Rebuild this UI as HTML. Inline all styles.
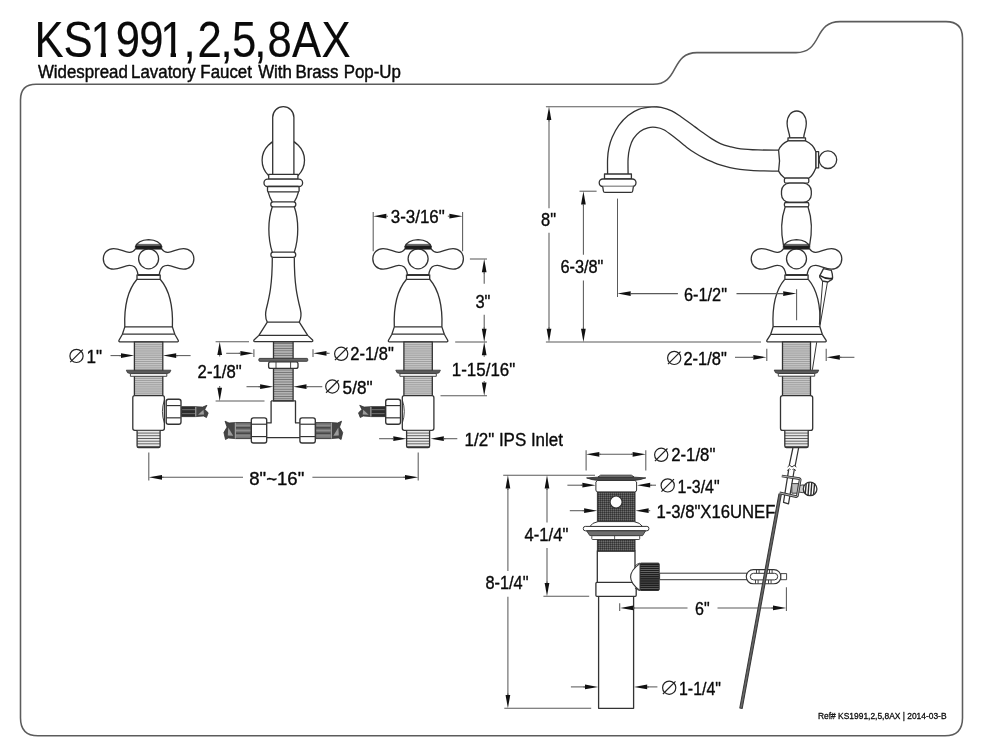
<!DOCTYPE html>
<html lang="en">
<head>
<meta charset="utf-8">
<title>KS1991,2,5,8AX - Widespread Lavatory Faucet With Brass Pop-Up</title>
<style>
html,body{margin:0;padding:0;background:#fff;}
body{width:982px;height:756px;overflow:hidden;font-family:"Liberation Sans",sans-serif;}
svg{display:block;will-change:transform;filter:grayscale(1);}
svg text{font-family:"Liberation Sans",sans-serif;fill:#0a0a0a;}
svg text{stroke:#0a0a0a;stroke-linejoin:round;}
</style>
</head>
<body>
<svg width="982" height="756" viewBox="0 0 982 756">
<defs>
<pattern id="thr" width="4" height="1.9" patternUnits="userSpaceOnUse"><rect width="4" height="1.9" fill="#cacaca" stroke="none"/><rect y="0" width="4" height="0.7" fill="#909090" stroke="none"/></pattern>
<pattern id="thr3" width="4" height="2.4" patternUnits="userSpaceOnUse"><rect width="4" height="2.4" fill="#b4b4b4" stroke="none"/><rect y="0" width="4" height="0.8" fill="#707070" stroke="none"/></pattern>
<pattern id="thr2" width="4" height="2.7" patternUnits="userSpaceOnUse" patternTransform="translate(0 0.6)"><rect width="4" height="2.7" fill="#e8e8e8" stroke="none"/><rect y="0" width="4" height="0.9" fill="#555" stroke="none"/></pattern>
<pattern id="dthr" width="2" height="2" patternUnits="userSpaceOnUse"><rect width="2" height="2" fill="#4c4c4c" stroke="none"/><rect width="1" height="1" fill="#333" stroke="none"/><rect x="1" y="1" width="1" height="1" fill="#6c6c6c" stroke="none"/></pattern>
<pattern id="knurl" width="4" height="2.1" patternUnits="userSpaceOnUse"><rect width="4" height="2.1" fill="#1e1e1e" stroke="none"/><rect y="0" width="4" height="0.6" fill="#777" stroke="none"/></pattern>
</defs>
<rect x="0" y="0" width="982" height="756" fill="#ffffff"/>
<g fill="none" stroke="#333" stroke-width="1.3" stroke-linejoin="round">
<path d="M20.5 100 Q20.5 84.3 36 84.3 L653 84.3 C666 84.3 670.5 77 675 68.4 C679.5 60 684 52.6 697 52.6 L796 52.6 C809 52.6 813.5 45.5 818 37 C822.5 28.6 827 21.6 840 21.6 L946 21.6 Q962.5 21.6 962.5 38 L962.5 718 Q962.5 735.8 945 735.8 L38 735.8 Q20.5 735.8 20.5 718 Z" fill="none" stroke-width="1.55" stroke="#5c5c5c" />
<g class="art">
<path d="M135.40 249.1 C133.60 251.5 131.60 252.5 129.20 252.3 C124.60 252 119.60 248.6 113.60 248.6 C107.60 248.6 103.30 253 103.30 258.8 C103.30 264.8 107.60 269.2 113.60 269.2 C119.60 269.2 124.60 265.6 129.20 265.4 C133.10 265.3 136.10 267.5 137.10 271 C137.60 272.5 137.80 273.5 137.80 274.4" fill="none" />
<path d="M161.80 249.1 C163.60 251.5 165.60 252.5 168.00 252.3 C172.60 252 177.60 248.6 183.60 248.6 C189.60 248.6 193.90 253 193.90 258.8 C193.90 264.8 189.60 269.2 183.60 269.2 C177.60 269.2 172.60 265.6 168.00 265.4 C164.10 265.3 161.10 267.5 160.10 271 C159.60 272.5 159.40 273.5 159.40 274.4" fill="none" />
<circle cx="148.6" cy="258.8" r="10.0" fill="none"/>
<path d="M135.40 247 Q137.60 240 148.60 239.6 Q159.60 240 161.80 247" fill="#fff" />
<path d="M137.10 244.4 L160.10 244.4" fill="none" stroke-width="0.8" />
<path d="M135.20 249.3 L135.40 246.6 L136.60 245.4 L160.60 245.4 L161.80 246.6 L162.00 249.3 Z" fill="#1c1c1c" stroke-width="0.6" />
<path d="M137.30 275 L159.90 275" fill="none" stroke-width="1.9" stroke="#2a2a2a" />
<path d="M137.00 274.4 L137.00 279.3 L160.20 279.3 L160.20 274.4" fill="none" />
<path d="M137.00 279.3 C128.60 289 124.00 306 124.80 326.9 L122.40 334.2 L119.00 340.3 Q118.40 341.8 120.00 341.8" fill="none" />
<path d="M160.20 279.3 C168.60 289 173.20 306 172.40 326.9 L174.80 334.2 L178.20 340.3 Q178.80 341.8 177.20 341.8" fill="none" />
<line x1="124.8" y1="326.9" x2="172.4" y2="326.9"/>
<line x1="122.39999999999999" y1="334.2" x2="174.79999999999998" y2="334.2"/>
<line x1="119.8" y1="341.8" x2="177.4" y2="341.8" stroke-width="1.3"/>
<rect x="134.40" y="341.80" width="28.40" height="53.80" fill="url(#thr)" stroke-width="1.3"/>
<path d="M126.30 370.2 L170.90 370.2 L169.60 372.8 L166.80 373.59999999999997 L130.40 373.59999999999997 L127.60 372.8 Z" fill="#5a5a5a" stroke-width="0.8" />
<rect x="130.40" y="373.60" width="36.40" height="2.70" fill="#fff" stroke-width="0.9"/>
<rect x="132.80" y="395.70" width="31.60" height="34.60" rx="2" fill="#fff"/>
<path d="M137.10 430.6 L137.10 446 Q137.10 447.6 138.60 447.6 L158.60 447.6 Q160.10 447.6 160.10 446 L160.10 430.6" fill="url(#thr2)" />
<path d="M164.40 400 Q160.40 411.5 164.40 423" fill="none" stroke-width="0.9" />
<path d="M168.40 399.20 L178.80 399.20 Q181.00 399.20 181.00 401.40 L181.00 422.00 Q181.00 424.20 178.80 424.20 L168.40 424.20 Q166.20 424.20 166.20 422.00 L166.20 401.40 Q166.20 399.20 168.40 399.20 Z" fill="#fff" stroke-width="1.35" />
<line x1="166.5" y1="405.575" x2="180.7" y2="405.575" stroke-width="1.2"/>
<line x1="166.5" y1="417.825" x2="180.7" y2="417.825" stroke-width="1.2"/>
<rect x="181.60" y="406.70" width="14.20" height="9.90" fill="#2c2c2c" stroke-width="0.9"/>
<line x1="182.1" y1="409.67" x2="195.3" y2="409.67" stroke-width="0.7" stroke="#8a8a8a"/>
<line x1="182.1" y1="413.63" x2="195.3" y2="413.63" stroke-width="0.7" stroke="#8a8a8a"/>
<path d="M195.80 406.70 L202.62 407.10 L206.96 405.30 L204.73 409.47 L208.20 412.84 L206.46 417.50 L203.49 416.00 L195.80 416.60 Z" fill="#444" stroke-width="0.8" />
<path d="M198.03 414.82 L203.49 409.67 L203.98 414.62 Z" fill="#9c9c9c" stroke-width="0.01" stroke="none" />
<line x1="195.8" y1="406.7" x2="195.8" y2="416.6" stroke-width="0.8" stroke="#d8d8d8"/>
<path d="M404.90 249.1 C403.10 251.5 401.10 252.5 398.70 252.3 C394.10 252 389.10 248.6 383.10 248.6 C377.10 248.6 372.80 253 372.80 258.8 C372.80 264.8 377.10 269.2 383.10 269.2 C389.10 269.2 394.10 265.6 398.70 265.4 C402.60 265.3 405.60 267.5 406.60 271 C407.10 272.5 407.30 273.5 407.30 274.4" fill="none" />
<path d="M431.30 249.1 C433.10 251.5 435.10 252.5 437.50 252.3 C442.10 252 447.10 248.6 453.10 248.6 C459.10 248.6 463.40 253 463.40 258.8 C463.40 264.8 459.10 269.2 453.10 269.2 C447.10 269.2 442.10 265.6 437.50 265.4 C433.60 265.3 430.60 267.5 429.60 271 C429.10 272.5 428.90 273.5 428.90 274.4" fill="none" />
<circle cx="418.1" cy="258.8" r="10.0" fill="none"/>
<path d="M404.90 247 Q407.10 240 418.10 239.6 Q429.10 240 431.30 247" fill="#fff" />
<path d="M406.60 244.4 L429.60 244.4" fill="none" stroke-width="0.8" />
<path d="M404.70 249.3 L404.90 246.6 L406.10 245.4 L430.10 245.4 L431.30 246.6 L431.50 249.3 Z" fill="#1c1c1c" stroke-width="0.6" />
<path d="M406.80 275 L429.40 275" fill="none" stroke-width="1.9" stroke="#2a2a2a" />
<path d="M406.50 274.4 L406.50 279.3 L429.70 279.3 L429.70 274.4" fill="none" />
<path d="M406.50 279.3 C398.10 289 393.50 306 394.30 326.9 L391.90 334.2 L388.50 340.3 Q387.90 341.8 389.50 341.8" fill="none" />
<path d="M429.70 279.3 C438.10 289 442.70 306 441.90 326.9 L444.30 334.2 L447.70 340.3 Q448.30 341.8 446.70 341.8" fill="none" />
<line x1="394.3" y1="326.9" x2="441.90000000000003" y2="326.9"/>
<line x1="391.90000000000003" y1="334.2" x2="444.3" y2="334.2"/>
<line x1="389.3" y1="341.8" x2="446.90000000000003" y2="341.8" stroke-width="1.3"/>
<rect x="403.90" y="341.80" width="28.40" height="53.80" fill="url(#thr)" stroke-width="1.3"/>
<path d="M395.80 370.2 L440.40 370.2 L439.10 372.8 L436.30 373.59999999999997 L399.90 373.59999999999997 L397.10 372.8 Z" fill="#5a5a5a" stroke-width="0.8" />
<rect x="399.90" y="373.60" width="36.40" height="2.70" fill="#fff" stroke-width="0.9"/>
<rect x="402.30" y="395.70" width="31.60" height="34.60" rx="2" fill="#fff"/>
<path d="M406.60 430.6 L406.60 446 Q406.60 447.6 408.10 447.6 L428.10 447.6 Q429.60 447.6 429.60 446 L429.60 430.6" fill="url(#thr2)" />
<path d="M402.30 400 Q406.30 411.5 402.30 423" fill="none" stroke-width="0.9" />
<path d="M387.90 399.20 L398.30 399.20 Q400.50 399.20 400.50 401.40 L400.50 422.00 Q400.50 424.20 398.30 424.20 L387.90 424.20 Q385.70 424.20 385.70 422.00 L385.70 401.40 Q385.70 399.20 387.90 399.20 Z" fill="#fff" stroke-width="1.35" />
<line x1="386.00000000000006" y1="405.575" x2="400.2" y2="405.575" stroke-width="1.2"/>
<line x1="386.00000000000006" y1="417.825" x2="400.2" y2="417.825" stroke-width="1.2"/>
<rect x="370.90" y="406.70" width="14.20" height="9.90" fill="#2c2c2c" stroke-width="0.9"/>
<line x1="371.40000000000003" y1="409.67" x2="384.6" y2="409.67" stroke-width="0.7" stroke="#8a8a8a"/>
<line x1="371.40000000000003" y1="413.63" x2="384.6" y2="413.63" stroke-width="0.7" stroke="#8a8a8a"/>
<path d="M370.90 406.70 L364.08 407.10 L359.74 405.30 L361.97 409.47 L358.50 412.84 L360.24 417.50 L363.21 416.00 L370.90 416.60 Z" fill="#444" stroke-width="0.8" />
<path d="M368.67 414.82 L363.21 409.67 L362.72 414.62 Z" fill="#9c9c9c" stroke-width="0.01" stroke="none" />
<line x1="370.90000000000003" y1="406.7" x2="370.90000000000003" y2="416.6" stroke-width="0.8" stroke="#d8d8d8"/>
<circle cx="283.3" cy="160.2" r="21.2" fill="none"/>
<path d="M272.70 174.3 L272.70 117.2 A10.6 10.6 0 0 1 293.90 117.2 L293.90 174.3" fill="#fff" />
<rect x="268.70" y="174.40" width="29.20" height="4.80" fill="#fff"/>
<rect x="264.00" y="179.20" width="38.60" height="7.30" rx="3.6" fill="#fff"/>
<rect x="267.50" y="186.50" width="31.60" height="5.30" rx="1" fill="#fff"/>
<path d="M268.10 191.8 Q269.80 198 272.30 201.8 M298.50 191.8 Q296.80 198 294.30 201.8" fill="none" />
<rect x="270.80" y="201.80" width="25.00" height="5.00" rx="2.4" fill="#fff"/>
<path d="M272.30 206.8 C267.70 220 267.70 238 272.30 252.2 M294.30 206.8 C298.90 220 298.90 238 294.30 252.2" fill="none" />
<rect x="270.90" y="252.20" width="24.80" height="5.20" rx="2.4" fill="#fff"/>
<path d="M272.30 257.4 C272.30 285 269.30 297 266.30 309 C264.90 315 265.70 319 267.30 322.1 L258.90 335.4 L254.00 340 Q253.30 341.6 254.90 341.6" fill="none" />
<path d="M294.30 257.4 C294.30 285 297.30 297 300.30 309 C301.70 315 300.90 319 299.30 322.1 L307.70 335.4 L312.60 340 Q313.30 341.6 311.70 341.6" fill="none" />
<line x1="267.3" y1="322.1" x2="299.3" y2="322.1"/>
<line x1="258.90000000000003" y1="335.4" x2="307.7" y2="335.4"/>
<line x1="254.70000000000002" y1="341.6" x2="311.90000000000003" y2="341.6" stroke-width="1.3"/>
<rect x="273.50" y="341.80" width="19.60" height="59.10" fill="url(#thr3)" stroke-width="1.3"/>
<rect x="258.90" y="358.40" width="48.80" height="2.90" rx="0.8" fill="#666" stroke-width="0.9"/>
<rect x="268.60" y="361.80" width="29.40" height="6.60" rx="2" fill="#fff"/>
<line x1="276.0" y1="362" x2="276.0" y2="368.2" stroke-width="0.9"/>
<line x1="290.6" y1="362" x2="290.6" y2="368.2" stroke-width="0.9"/>
<path d="M271.10 400.9 L295.50 400.9 L295.50 422.9 L300.80 422.9 M300.80 437.6 L265.80 437.6 M265.80 422.9 L271.10 422.9 L271.10 400.9" fill="none" />
<path d="M253.50 417.80 L264.50 417.80 Q266.70 417.80 266.70 420.00 L266.70 440.80 Q266.70 443.00 264.50 443.00 L253.50 443.00 Q251.30 443.00 251.30 440.80 L251.30 420.00 Q251.30 417.80 253.50 417.80 Z" fill="#fff" stroke-width="1.35" />
<line x1="251.60000000000002" y1="424.226" x2="266.4" y2="424.226" stroke-width="1.2"/>
<line x1="251.60000000000002" y1="436.574" x2="266.4" y2="436.574" stroke-width="1.2"/>
<path d="M302.10 417.80 L313.10 417.80 Q315.30 417.80 315.30 420.00 L315.30 440.80 Q315.30 443.00 313.10 443.00 L302.10 443.00 Q299.90 443.00 299.90 440.80 L299.90 420.00 Q299.90 417.80 302.10 417.80 Z" fill="#fff" stroke-width="1.35" />
<line x1="300.20000000000005" y1="424.226" x2="315.0" y2="424.226" stroke-width="1.2"/>
<line x1="300.20000000000005" y1="436.574" x2="315.0" y2="436.574" stroke-width="1.2"/>
<rect x="235.30" y="422.60" width="15.60" height="16.00" fill="#757575" stroke-width="0.9"/>
<line x1="235.8" y1="427.88" x2="250.4" y2="427.88" stroke-width="1.0" stroke="#2e2e2e"/>
<line x1="235.8" y1="433.16" x2="250.4" y2="433.16" stroke-width="1.0" stroke="#2e2e2e"/>
<line x1="235.8" y1="425.32000000000005" x2="250.4" y2="425.32000000000005" stroke-width="0.6" stroke="#a5a5a5"/>
<line x1="235.8" y1="430.6" x2="250.4" y2="430.6" stroke-width="0.6" stroke="#a5a5a5"/>
<line x1="235.8" y1="435.88" x2="250.4" y2="435.88" stroke-width="0.6" stroke="#a5a5a5"/>
<path d="M235.30 422.60 L229.03 423.00 L225.04 421.20 L227.09 427.08 L223.90 432.52 L225.50 439.50 L228.23 438.00 L235.30 438.60 Z" fill="#444" stroke-width="0.8" />
<path d="M233.25 435.72 L228.23 427.40 L227.78 435.40 Z" fill="#9c9c9c" stroke-width="0.01" stroke="none" />
<line x1="235.3" y1="422.6" x2="235.3" y2="438.6" stroke-width="0.8" stroke="#d8d8d8"/>
<rect x="315.70" y="422.60" width="15.60" height="16.00" fill="#757575" stroke-width="0.9"/>
<line x1="316.2" y1="427.88" x2="330.8" y2="427.88" stroke-width="1.0" stroke="#2e2e2e"/>
<line x1="316.2" y1="433.16" x2="330.8" y2="433.16" stroke-width="1.0" stroke="#2e2e2e"/>
<line x1="316.2" y1="425.32000000000005" x2="330.8" y2="425.32000000000005" stroke-width="0.6" stroke="#a5a5a5"/>
<line x1="316.2" y1="430.6" x2="330.8" y2="430.6" stroke-width="0.6" stroke="#a5a5a5"/>
<line x1="316.2" y1="435.88" x2="330.8" y2="435.88" stroke-width="0.6" stroke="#a5a5a5"/>
<path d="M331.30 422.60 L337.57 423.00 L341.56 421.20 L339.51 427.08 L342.70 432.52 L341.10 439.50 L338.37 438.00 L331.30 438.60 Z" fill="#444" stroke-width="0.8" />
<path d="M333.35 435.72 L338.37 427.40 L338.82 435.40 Z" fill="#9c9c9c" stroke-width="0.01" stroke="none" />
<line x1="331.3" y1="422.6" x2="331.3" y2="438.6" stroke-width="0.8" stroke="#d8d8d8"/>
<g class="dim" stroke="#5a5a5a" stroke-width="1.05">
<circle cx="76.5" cy="355.9" r="6.6" fill="none" stroke="#222" stroke-width="1.2"/>
<line x1="70.23" y1="362.17" x2="82.77" y2="349.63" stroke="#222" stroke-width="1.2"/>
<text transform="translate(86.40 362.65) scale(0.8962 1)" font-size="19.1" stroke-width="0.38">1"</text>
<line x1="110.5" y1="355.6" x2="121" y2="355.6"/>
<line x1="121.00" y1="355.60" x2="119.40" y2="355.60"/>
<polygon points="134.20,355.60 121.00,353.25 121.00,357.95" fill="#111" stroke="none"/>
<line x1="176.20" y1="355.60" x2="177.80" y2="355.60"/>
<polygon points="163.00,355.60 176.20,353.25 176.20,357.95" fill="#111" stroke="none"/>
<line x1="176" y1="355.6" x2="190.6" y2="355.6"/>
<line x1="215.6" y1="341.7" x2="249" y2="341.7"/>
<line x1="215.6" y1="400.9" x2="264.5" y2="400.9"/>
<line x1="219.70" y1="354.90" x2="219.70" y2="356.50"/>
<polygon points="219.70,341.70 217.35,354.90 222.05,354.90" fill="#111" stroke="none"/>
<line x1="219.70" y1="387.70" x2="219.70" y2="386.10"/>
<polygon points="219.70,400.90 217.35,387.70 222.05,387.70" fill="#111" stroke="none"/>
<text transform="translate(197.60 378.35) scale(0.8745 1)" font-size="19.1" stroke-width="0.38">2-1/8"</text>
<line x1="226.2" y1="353.3" x2="240" y2="353.3"/>
<line x1="240.40" y1="353.30" x2="238.80" y2="353.30"/>
<polygon points="253.60,353.30 240.40,350.95 240.40,355.65" fill="#111" stroke="none"/>
<line x1="253.9" y1="349.2" x2="253.9" y2="357"/>
<line x1="313" y1="349.2" x2="313" y2="357"/>
<line x1="326.50" y1="353.30" x2="328.10" y2="353.30"/>
<polygon points="313.30,353.30 326.50,350.95 326.50,355.65" fill="#111" stroke="none"/>
<line x1="326" y1="353.3" x2="329.6" y2="353.3"/>
<circle cx="341.2" cy="353.8" r="6.6" fill="none" stroke="#222" stroke-width="1.2"/>
<line x1="334.93" y1="360.07" x2="347.47" y2="347.53" stroke="#222" stroke-width="1.2"/>
<text transform="translate(350.20 360.15) scale(0.8666 1)" font-size="19.1" stroke-width="0.38">2-1/8"</text>
<line x1="246.5" y1="386.7" x2="261" y2="386.7"/>
<line x1="260.10" y1="386.70" x2="258.50" y2="386.70"/>
<polygon points="273.30,386.70 260.10,384.35 260.10,389.05" fill="#111" stroke="none"/>
<line x1="306.50" y1="386.70" x2="308.10" y2="386.70"/>
<polygon points="293.30,386.70 306.50,384.35 306.50,389.05" fill="#111" stroke="none"/>
<line x1="306" y1="386.7" x2="322.3" y2="386.7"/>
<circle cx="332.3" cy="386.5" r="6.6" fill="none" stroke="#222" stroke-width="1.2"/>
<line x1="326.03" y1="392.77" x2="338.57" y2="380.23" stroke="#222" stroke-width="1.2"/>
<text transform="translate(342.60 393.55) scale(0.9001 1)" font-size="19.1" stroke-width="0.38">5/8"</text>
<line x1="373.2" y1="212.1" x2="373.2" y2="251.2"/>
<line x1="462.6" y1="212.1" x2="462.6" y2="251.2"/>
<line x1="386.40" y1="216.20" x2="388.00" y2="216.20"/>
<polygon points="373.20,216.20 386.40,213.85 386.40,218.55" fill="#111" stroke="none"/>
<line x1="449.40" y1="216.20" x2="447.80" y2="216.20"/>
<polygon points="462.60,216.20 449.40,213.85 449.40,218.55" fill="#111" stroke="none"/>
<text transform="translate(390.80 223.15) scale(0.8864 1)" font-size="19.1" stroke-width="0.38">3-3/16"</text>
<line x1="469.9" y1="259" x2="487" y2="259"/>
<line x1="455.2" y1="342" x2="487" y2="342"/>
<line x1="440.5" y1="395.8" x2="487" y2="395.8"/>
<line x1="484.20" y1="272.20" x2="484.20" y2="273.80"/>
<polygon points="484.20,259.00 481.85,272.20 486.55,272.20" fill="#111" stroke="none"/>
<line x1="484.2" y1="272" x2="484.2" y2="283.8"/>
<text transform="translate(475.40 307.85) scale(0.8618 1)" font-size="19.1" stroke-width="0.38">3"</text>
<line x1="484.2" y1="314.7" x2="484.2" y2="329"/>
<line x1="484.20" y1="328.80" x2="484.20" y2="327.20"/>
<polygon points="484.20,342.00 481.85,328.80 486.55,328.80" fill="#111" stroke="none"/>
<line x1="484.20" y1="355.20" x2="484.20" y2="356.80"/>
<polygon points="484.20,342.00 481.85,355.20 486.55,355.20" fill="#111" stroke="none"/>
<line x1="484.20" y1="382.60" x2="484.20" y2="381.00"/>
<polygon points="484.20,395.80 481.85,382.60 486.55,382.60" fill="#111" stroke="none"/>
<text transform="translate(451.80 376.25) scale(0.8875 1)" font-size="19.1" stroke-width="0.38">1-15/16"</text>
<line x1="379.1" y1="438.7" x2="393" y2="438.7"/>
<line x1="393.30" y1="438.70" x2="391.70" y2="438.70"/>
<polygon points="406.50,438.70 393.30,436.35 393.30,441.05" fill="#111" stroke="none"/>
<line x1="443.80" y1="438.70" x2="445.40" y2="438.70"/>
<polygon points="430.60,438.70 443.80,436.35 443.80,441.05" fill="#111" stroke="none"/>
<line x1="443.5" y1="438.7" x2="457.3" y2="438.7"/>
<text transform="translate(464.60 446.45) scale(0.8881 1)" font-size="19.1" stroke-width="0.38">1/2" IPS Inlet</text>
<line x1="148.8" y1="452.6" x2="148.8" y2="480.5"/>
<line x1="418.2" y1="452.6" x2="418.2" y2="480.5"/>
<line x1="162.00" y1="477.30" x2="163.60" y2="477.30"/>
<polygon points="148.80,477.30 162.00,474.95 162.00,479.65" fill="#111" stroke="none"/>
<line x1="405.00" y1="477.30" x2="403.40" y2="477.30"/>
<polygon points="418.20,477.30 405.00,474.95 405.00,479.65" fill="#111" stroke="none"/>
<line x1="162" y1="477.3" x2="243" y2="477.3"/>
<line x1="312.4" y1="477.3" x2="405" y2="477.3"/>
<text transform="translate(249.30 484.65) scale(0.9721 1)" font-size="19.1" stroke-width="0.38">8"~16"</text>
</g>
<path d="M822.7 280.8 L819.3 324.6 M827.5 281.7 L820.2 324.6 M816.7 342.2 L812.4 369.8" fill="none" stroke-width="1.0" />
<path d="M607.60 174.00 C607.60 171.42 607.38 162.85 607.60 158.50 C607.82 154.15 608.13 151.43 608.90 147.90 C609.67 144.37 610.55 141.05 612.20 137.30 C613.85 133.55 616.15 129.03 618.80 125.40 C621.45 121.77 624.78 118.18 628.10 115.50 C631.42 112.82 634.73 110.73 638.70 109.30 C642.67 107.87 648.17 107.22 651.90 106.90 C655.63 106.58 657.80 106.73 661.10 107.40 C664.40 108.07 668.38 109.33 671.70 110.90 C675.02 112.47 677.12 114.13 681.00 116.80 C684.88 119.47 691.32 124.23 695.00 126.90 C698.68 129.57 700.35 130.85 703.10 132.80 C705.85 134.75 708.62 136.80 711.50 138.60 C714.38 140.40 717.32 142.27 720.40 143.60 C723.48 144.93 726.62 145.73 730.00 146.60 C733.38 147.47 736.03 148.25 740.70 148.80 C745.37 149.35 751.68 149.67 758.00 149.90 C764.32 150.13 775.17 150.15 778.60 150.20" fill="none" />
<path d="M628.10 174.00 C628.10 171.42 627.83 162.85 628.10 158.50 C628.37 154.15 628.82 151.20 629.70 147.90 C630.58 144.60 631.68 141.45 633.40 138.70 C635.12 135.95 637.58 133.22 640.00 131.40 C642.42 129.58 645.27 128.47 647.90 127.80 C650.53 127.13 653.15 127.08 655.80 127.40 C658.45 127.72 660.70 128.05 663.80 129.70 C666.90 131.35 670.43 134.27 674.40 137.30 C678.37 140.33 684.17 145.28 687.60 147.90 C691.03 150.52 692.27 151.28 695.00 153.00 C697.73 154.72 700.95 156.65 704.00 158.20 C707.05 159.75 710.47 161.13 713.30 162.30 C716.13 163.47 718.22 164.32 721.00 165.20 C723.78 166.08 726.83 166.90 730.00 167.60 C733.17 168.30 736.52 168.93 740.00 169.40 C743.48 169.87 746.90 170.15 750.90 170.40 C754.90 170.65 759.38 170.78 764.00 170.90 C768.62 171.02 776.17 171.07 778.60 171.10" fill="none" />
<rect x="604.50" y="174.00" width="26.90" height="5.00" fill="#fff"/>
<rect x="599.20" y="179.00" width="36.80" height="7.50" rx="3.7" fill="#fff"/>
<path d="M602.7 186.5 L603.4 191 Q603.6 192.4 605 192.4 L631 192.4 Q632.5 192.4 632.7 191 L633.4 186.5" fill="#fff" />
<path d="M789.8 138 C789.8 133 787.1 130 787.1 123.4 C787.1 116 791.3 111 796.7 111 C802.1 111 806.3 116 806.3 123.4 C806.3 130 803.7 133 803.7 138 Z" fill="#fff" />
<rect x="788.00" y="137.90" width="17.50" height="3.10" fill="#fff"/>
<circle cx="827.9" cy="159.7" r="8.8" fill="#fff"/>
<rect x="815.70" y="151.60" width="2.90" height="16.30" fill="#fff"/>
<path d="M788 140.9 L805.5 140.9 Q813 144 815.8 151.6 L815.8 167.9 Q813 175 809 178.1 L784.5 178.1 Q780.5 175 778.6 171.1 Q780.4 160.6 778.6 150.2 Q781 144 788 140.9 Z" fill="#fff" />
<rect x="784.40" y="178.10" width="24.40" height="5.00" rx="1.5" fill="#fff"/>
<rect x="781.50" y="183.10" width="29.80" height="19.40" rx="8" fill="#fff"/>
<rect x="784.40" y="202.50" width="24.40" height="4.30" rx="1.5" fill="#fff"/>
<path d="M785.2 206.8 C780.6 220 780.6 232 783.6 246 L809.5 246 C812.4 232 812.4 220 808 206.8 Z" fill="#fff" />
<path d="M783.30 249.1 C781.50 251.5 779.50 252.5 777.10 252.3 C772.50 252 767.50 248.6 761.50 248.6 C755.50 248.6 751.20 253 751.20 258.8 C751.20 264.8 755.50 269.2 761.50 269.2 C767.50 269.2 772.50 265.6 777.10 265.4 C781.00 265.3 784.00 267.5 785.00 271 C785.50 272.5 785.70 273.5 785.70 274.4" fill="none" />
<path d="M809.70 249.1 C811.50 251.5 813.50 252.5 815.90 252.3 C820.50 252 825.50 248.6 831.50 248.6 C837.50 248.6 841.80 253 841.80 258.8 C841.80 264.8 837.50 269.2 831.50 269.2 C825.50 269.2 820.50 265.6 815.90 265.4 C812.00 265.3 809.00 267.5 808.00 271 C807.50 272.5 807.30 273.5 807.30 274.4" fill="none" />
<circle cx="796.5" cy="258.8" r="10.0" fill="none"/>
<path d="M783.30 247 Q785.50 240 796.50 239.6 Q807.50 240 809.70 247" fill="#fff" />
<path d="M785.00 244.4 L808.00 244.4" fill="none" stroke-width="0.8" />
<path d="M783.10 249.3 L783.30 246.6 L784.50 245.4 L808.50 245.4 L809.70 246.6 L809.90 249.3 Z" fill="#1c1c1c" stroke-width="0.6" />
<path d="M785.20 275 L807.80 275" fill="none" stroke-width="1.9" stroke="#2a2a2a" />
<path d="M784.90 274.4 L784.90 279.3 L808.10 279.3 L808.10 274.4" fill="none" />
<path d="M784.70 279.4 C776.50 289 772.10 306 773.10 326.7 L770.70 334.3 L766.90 340.3 Q766.30 341.8 767.90 341.8" fill="none" />
<path d="M808.30 279.4 C816.50 289 820.90 306 819.90 326.7 L822.30 334.3 L826.10 340.3 Q826.70 341.8 825.10 341.8" fill="none" />
<line x1="773.1" y1="326.7" x2="819.9" y2="326.7"/>
<line x1="770.7" y1="334.3" x2="822.3" y2="334.3"/>
<line x1="767.7" y1="341.8" x2="825.3" y2="341.8" stroke-width="1.3"/>
<path d="M823.5 268.6 L831.3 270.3 Q832.6 274 832.6 277.6 Q832.6 280 830.4 280.4 L828 282 L822.4 281 L821 278.6 Q819.4 277.6 819.6 275.8 Q821.6 272.6 823.5 268.6 Z" fill="#fff" />
<path d="M820 275.6 Q826 279.4 832.3 278.4" fill="none" stroke-width="1.7" stroke="#222" />
<rect x="782.50" y="341.80" width="28.00" height="53.80" fill="url(#thr)" stroke-width="1.3"/>
<path d="M774.20 370.1 L818.80 370.1 L817.50 372.70000000000005 L814.70 373.5 L778.30 373.5 L775.50 372.70000000000005 Z" fill="#5a5a5a" stroke-width="0.8" />
<rect x="778.30" y="373.50" width="36.40" height="2.70" fill="#fff" stroke-width="0.9"/>
<rect x="780.50" y="395.60" width="32.20" height="34.80" rx="2.2" fill="#fff"/>
<path d="M784.80 430.6 L784.80 446 Q784.80 447.7 786.50 447.7 L806.50 447.7 Q808.20 447.7 808.20 446 L808.20 430.6" fill="url(#thr2)" />
<path d="M792.9 448 L789.2 465.6 M798.6 448 L795.1 466" fill="none" stroke-width="1.25" />
<path d="M787.6 467 L789.6 465.2 L792 467 L794.2 465.4 L796.4 467" fill="none" stroke-width="1.0" />
<path d="M787.2 470.6 L789.2 468.8 L791.6 470.6 L793.8 469 L796 470.6" fill="none" stroke-width="1.0" />
<path d="M788.7 469.6 L783.5 502.4 L788.5 503.8 L794.2 470" fill="#fff" stroke-width="1.25" />
<rect x="791.80" y="483.60" width="6.60" height="9.60" fill="#bdbdbd" stroke-width="0.9"/>
<path d="M798.6 485.6 L803.6 484.8 L803.6 492.8 L798.6 492 Z" fill="#ccc" stroke-width="0.9" />
<circle cx="810.1" cy="488.9" r="6.8" fill="#fff" stroke-width="1.3"/>
<line x1="806.2" y1="483.71540744127367" x2="805.2" y2="494.0845925587263" stroke-width="1.4" stroke="#2a2a2a"/>
<line x1="809.0" y1="482.29091534325664" x2="808.0" y2="495.5090846567433" stroke-width="1.4" stroke="#2a2a2a"/>
<line x1="811.8000000000001" y1="482.20671978772737" x2="810.8000000000001" y2="495.5932802122726" stroke-width="1.4" stroke="#2a2a2a"/>
<line x1="814.6" y1="483.400909166053" x2="813.6" y2="494.39909083394696" stroke-width="1.4" stroke="#2a2a2a"/>
<path d="M781.8 476 L799.4 478.6 L800.2 479.6 L797.4 495.8 L796.2 496.6 L779.6 492.9" fill="none" stroke-width="2.7" stroke="#333" />
<path d="M781.8 476 L799.4 478.6 L800.2 479.6 L797.4 495.8 L796.2 496.6 L779.6 492.9" fill="none" stroke-width="0.7" stroke="#eee" />
<g class="dim" stroke="#5a5a5a" stroke-width="1.05">
<line x1="545.9" y1="106.7" x2="656" y2="106.7"/>
<line x1="545.9" y1="342" x2="761" y2="342"/>
<line x1="549.00" y1="119.90" x2="549.00" y2="121.50"/>
<polygon points="549.00,106.70 546.65,119.90 551.35,119.90" fill="#111" stroke="none"/>
<line x1="549" y1="120" x2="549" y2="208.3"/>
<text transform="translate(541.00 226.35) scale(0.8618 1)" font-size="19.1" stroke-width="0.38">8"</text>
<line x1="549" y1="232.8" x2="549" y2="329"/>
<line x1="549.00" y1="328.80" x2="549.00" y2="327.20"/>
<polygon points="549.00,342.00 546.65,328.80 551.35,328.80" fill="#111" stroke="none"/>
<line x1="579.5" y1="191.2" x2="596.6" y2="191.2"/>
<line x1="583.40" y1="204.40" x2="583.40" y2="206.00"/>
<polygon points="583.40,191.20 581.05,204.40 585.75,204.40" fill="#111" stroke="none"/>
<line x1="583.4" y1="204" x2="583.4" y2="254.8"/>
<text transform="translate(560.40 273.05) scale(0.8547 1)" font-size="19.1" stroke-width="0.38">6-3/8"</text>
<line x1="583.4" y1="280.4" x2="583.4" y2="329"/>
<line x1="583.40" y1="328.80" x2="583.40" y2="327.20"/>
<polygon points="583.40,342.00 581.05,328.80 585.75,328.80" fill="#111" stroke="none"/>
<line x1="617.5" y1="198.6" x2="617.5" y2="297"/>
<line x1="630.70" y1="293.60" x2="632.30" y2="293.60"/>
<polygon points="617.50,293.60 630.70,291.25 630.70,295.95" fill="#111" stroke="none"/>
<line x1="631" y1="293.6" x2="677.9" y2="293.6"/>
<text transform="translate(684.00 300.95) scale(0.8547 1)" font-size="19.1" stroke-width="0.38">6-1/2"</text>
<line x1="736.5" y1="293.6" x2="783" y2="293.6"/>
<line x1="783.20" y1="293.60" x2="781.60" y2="293.60"/>
<polygon points="796.40,293.60 783.20,291.25 783.20,295.95" fill="#111" stroke="none"/>
<line x1="796.6" y1="289.2" x2="796.6" y2="320.2"/>
<circle cx="674.2" cy="357.9" r="6.6" fill="none" stroke="#222" stroke-width="1.2"/>
<line x1="667.93" y1="364.17" x2="680.47" y2="351.63" stroke="#222" stroke-width="1.2"/>
<text transform="translate(683.40 364.75) scale(0.8646 1)" font-size="19.1" stroke-width="0.38">2-1/8"</text>
<line x1="735" y1="357.3" x2="753" y2="357.3"/>
<line x1="753.30" y1="357.30" x2="751.70" y2="357.30"/>
<polygon points="766.50,357.30 753.30,354.95 753.30,359.65" fill="#111" stroke="none"/>
<line x1="766.8" y1="348.7" x2="766.8" y2="361"/>
<line x1="826.2" y1="348.7" x2="826.2" y2="361"/>
<line x1="839.80" y1="357.30" x2="841.40" y2="357.30"/>
<polygon points="826.60,357.30 839.80,354.95 839.80,359.65" fill="#111" stroke="none"/>
<line x1="840" y1="357.3" x2="854.4" y2="357.3"/>
</g>
<rect x="598.60" y="596.30" width="35.00" height="112.00" fill="#fff"/>
<rect x="597.30" y="551.00" width="37.70" height="32.00" fill="#fff"/>
<rect x="595.90" y="582.40" width="40.30" height="13.90" rx="1" fill="#fff"/>
<path d="M639.8 563.6 Q621.4 577 639.8 590.4" fill="#fff" stroke-width="1.1" />
<path d="M634.9 566 Q639 562.6 640 563.4 M634.9 588 Q639 591 640 590.4" fill="none" stroke-width="0.9" />
<rect x="640.00" y="563.10" width="19.20" height="27.40" rx="1" fill="url(#knurl)" stroke-width="1.0"/>
<rect x="659.60" y="573.20" width="87.60" height="6.50" fill="#fff" stroke-width="1.0"/>
<rect x="746.30" y="569.60" width="34.60" height="14.20" rx="7" fill="#fff" stroke-width="1.1"/>
<rect x="750.30" y="573.30" width="27.40" height="6.60" rx="3.3" fill="#fff" stroke-width="1.0"/>
<rect x="780.90" y="573.60" width="5.70" height="6.10" fill="#fff" stroke-width="0.9"/>
<line x1="756.5" y1="569.8" x2="756.5" y2="573.2" stroke-width="0.9"/>
<line x1="759.1" y1="569.8" x2="759.1" y2="573.2" stroke-width="0.9"/>
<line x1="755.5" y1="580" x2="755.5" y2="583.6" stroke-width="0.9"/>
<line x1="758.1" y1="580" x2="758.1" y2="583.6" stroke-width="0.9"/>
<line x1="769.5" y1="569.8" x2="769.5" y2="573.2" stroke-width="0.9"/>
<line x1="772.1" y1="569.8" x2="772.1" y2="573.2" stroke-width="0.9"/>
<line x1="768.5" y1="580" x2="768.5" y2="583.6" stroke-width="0.9"/>
<line x1="771.1" y1="580" x2="771.1" y2="583.6" stroke-width="0.9"/>
<rect x="597.40" y="491.90" width="37.60" height="59.10" fill="url(#dthr)" stroke-width="1.0"/>
<circle cx="616.1" cy="502" r="6.0" fill="#fff" stroke-width="1.1"/>
<path d="M589.8 526.6 Q592 522.6 598 521.6 L634 521.6 Q640 522.6 642.7 526.6 Z" fill="#fff" stroke-width="1.0" />
<rect x="583.30" y="526.40" width="65.60" height="4.40" rx="2" fill="#fff" stroke-width="1.0"/>
<path d="M586.6 530.8 L645.6 530.8 L642.6 535.6 L589.8 535.6 Z" fill="#6e6e6e" stroke-width="0.9" />
<rect x="591.80" y="535.70" width="47.90" height="3.80" rx="0.8" fill="#fff" stroke-width="0.9"/>
<line x1="614.6" y1="535.8" x2="614.6" y2="539.4" stroke-width="0.8"/>
<path d="M597.5 480.4 L634.9 480.4 L636.6 482 L636.6 490 Q636.6 491.9 634.6 491.9 L597.9 491.9 Q595.9 491.9 595.9 490 L595.9 482 Z" fill="#fff" stroke-width="1.0" />
<path d="M586.6 477.9 Q600 476.7 616 476.7 Q632 476.7 645.8 477.9 Q640 480 634 480.4 L598 480.4 Q592 480 586.6 477.9 Z" fill="#484848" stroke-width="0.9" />
<path d="M598 477 L600.6 475.2 L631.4 475.2 L634 477 Z" fill="#aaa" stroke-width="1.0" />
<g class="dim" stroke="#5a5a5a" stroke-width="1.05">
<line x1="586.1" y1="450.2" x2="586.1" y2="470.5"/>
<line x1="645.8" y1="450.2" x2="645.8" y2="470.5"/>
<line x1="599.30" y1="454.30" x2="600.90" y2="454.30"/>
<polygon points="586.10,454.30 599.30,451.95 599.30,456.65" fill="#111" stroke="none"/>
<line x1="632.60" y1="454.30" x2="631.00" y2="454.30"/>
<polygon points="645.80,454.30 632.60,451.95 632.60,456.65" fill="#111" stroke="none"/>
<line x1="599" y1="454.3" x2="633" y2="454.3"/>
<circle cx="661.2" cy="454.8" r="6.6" fill="none" stroke="#222" stroke-width="1.2"/>
<line x1="654.93" y1="461.07" x2="667.47" y2="448.53" stroke="#222" stroke-width="1.2"/>
<text transform="translate(671.20 461.45) scale(0.8785 1)" font-size="19.1" stroke-width="0.38">2-1/8"</text>
<line x1="567.4" y1="485.2" x2="582.5" y2="485.2"/>
<line x1="582.40" y1="485.20" x2="580.80" y2="485.20"/>
<polygon points="595.60,485.20 582.40,482.85 582.40,487.55" fill="#111" stroke="none"/>
<line x1="650.20" y1="485.20" x2="651.80" y2="485.20"/>
<polygon points="637.00,485.20 650.20,482.85 650.20,487.55" fill="#111" stroke="none"/>
<line x1="650" y1="485.2" x2="656" y2="485.2"/>
<circle cx="667.7" cy="485.4" r="6.6" fill="none" stroke="#222" stroke-width="1.2"/>
<line x1="661.43" y1="491.67" x2="673.97" y2="479.13" stroke="#222" stroke-width="1.2"/>
<text transform="translate(677.60 492.55) scale(0.8348 1)" font-size="19.1" stroke-width="0.38">1-3/4"</text>
<line x1="569.8" y1="510.7" x2="584.5" y2="510.7"/>
<line x1="584.10" y1="510.70" x2="582.50" y2="510.70"/>
<polygon points="597.30,510.70 584.10,508.35 584.10,513.05" fill="#111" stroke="none"/>
<line x1="648.60" y1="510.70" x2="650.20" y2="510.70"/>
<polygon points="635.40,510.70 648.60,508.35 648.60,513.05" fill="#111" stroke="none"/>
<text transform="translate(656.40 518.45) scale(0.8734 1)" font-size="19.1" stroke-width="0.38">1-3/8"X16UNEF</text>
<line x1="503.2" y1="475.2" x2="595" y2="475.2"/>
<line x1="507.90" y1="488.40" x2="507.90" y2="490.00"/>
<polygon points="507.90,475.20 505.55,488.40 510.25,488.40" fill="#111" stroke="none"/>
<line x1="507.9" y1="488" x2="507.9" y2="571"/>
<text transform="translate(485.50 588.95) scale(0.8547 1)" font-size="19.1" stroke-width="0.38">8-1/4"</text>
<line x1="507.9" y1="596.7" x2="507.9" y2="696"/>
<line x1="507.90" y1="695.10" x2="507.90" y2="693.50"/>
<polygon points="507.90,708.30 505.55,695.10 510.25,695.10" fill="#111" stroke="none"/>
<line x1="504.3" y1="708.3" x2="591.2" y2="708.3"/>
<line x1="547.00" y1="488.40" x2="547.00" y2="490.00"/>
<polygon points="547.00,475.20 544.65,488.40 549.35,488.40" fill="#111" stroke="none"/>
<line x1="547" y1="488" x2="547" y2="522.5"/>
<text transform="translate(524.60 541.25) scale(0.8706 1)" font-size="19.1" stroke-width="0.38">4-1/4"</text>
<line x1="547" y1="548" x2="547" y2="584"/>
<line x1="547.00" y1="583.10" x2="547.00" y2="581.50"/>
<polygon points="547.00,596.30 544.65,583.10 549.35,583.10" fill="#111" stroke="none"/>
<line x1="543.4" y1="596.3" x2="589.2" y2="596.3"/>
<line x1="619.7" y1="603.2" x2="619.7" y2="611"/>
<line x1="633.40" y1="607.90" x2="635.00" y2="607.90"/>
<polygon points="620.20,607.90 633.40,605.55 633.40,610.25" fill="#111" stroke="none"/>
<line x1="633" y1="607.9" x2="687.5" y2="607.9"/>
<text transform="translate(695.00 614.75) scale(0.8388 1)" font-size="19.1" stroke-width="0.38">6"</text>
<line x1="717.5" y1="607.9" x2="773" y2="607.9"/>
<line x1="773.00" y1="607.90" x2="771.40" y2="607.90"/>
<polygon points="786.20,607.90 773.00,605.55 773.00,610.25" fill="#111" stroke="none"/>
<line x1="786.4" y1="587.2" x2="786.4" y2="611"/>
<line x1="570.9" y1="686.9" x2="585" y2="686.9"/>
<line x1="585.00" y1="686.90" x2="583.40" y2="686.90"/>
<polygon points="598.20,686.90 585.00,684.55 585.00,689.25" fill="#111" stroke="none"/>
<line x1="647.20" y1="686.90" x2="648.80" y2="686.90"/>
<polygon points="634.00,686.90 647.20,684.55 647.20,689.25" fill="#111" stroke="none"/>
<line x1="647" y1="686.9" x2="657.4" y2="686.9"/>
<circle cx="669.2" cy="687.7" r="6.6" fill="none" stroke="#222" stroke-width="1.2"/>
<line x1="662.93" y1="693.97" x2="675.47" y2="681.43" stroke="#222" stroke-width="1.2"/>
<text transform="translate(679.00 694.55) scale(0.8348 1)" font-size="19.1" stroke-width="0.38">1-1/4"</text>
</g>
<path d="M779 493.6 L739.8 708 L742.2 708.4 L781.4 494" fill="#6a6a6a" stroke-width="1.1" stroke="#3a3a3a" />
</g>
<text class="t" transform="scale(0.88 1)" x="39.32 72.16 102.84 131.59 158.18 182.16 208.52 224.43 250.57 263.75 288.98 304.09 331.93 365.23" y="57.2" font-size="49.6" stroke-width="0.15">KS1991,2,5,8AX</text>
<rect x="92.0" y="51.5" width="8.7" height="7" fill="#fff" stroke="none"/>
<rect x="106.0" y="51.5" width="8.0" height="7" fill="#fff" stroke="none"/>
<rect x="162.0" y="51.5" width="8.6" height="7" fill="#fff" stroke="none"/>
<rect x="176.0" y="51.5" width="8.2" height="7" fill="#fff" stroke="none"/>
<text transform="scale(0.9479 1)" y="78.3" font-size="17.8" stroke-width="0.45"><tspan x="39.98">Widespread</tspan> <tspan x="138.30">Lavatory</tspan> <tspan x="211.40">Faucet</tspan> <tspan x="272.38">With</tspan> <tspan x="311.62">Brass</tspan> <tspan x="362.57">Pop-Up</tspan></text>
<text transform="translate(818.00 718.80) scale(0.9159 1)" font-size="9.2" stroke-width="0.3">Ref# KS1991,2,5,8AX | 2014-03-B</text>
</g>
</svg>
</body>
</html>
